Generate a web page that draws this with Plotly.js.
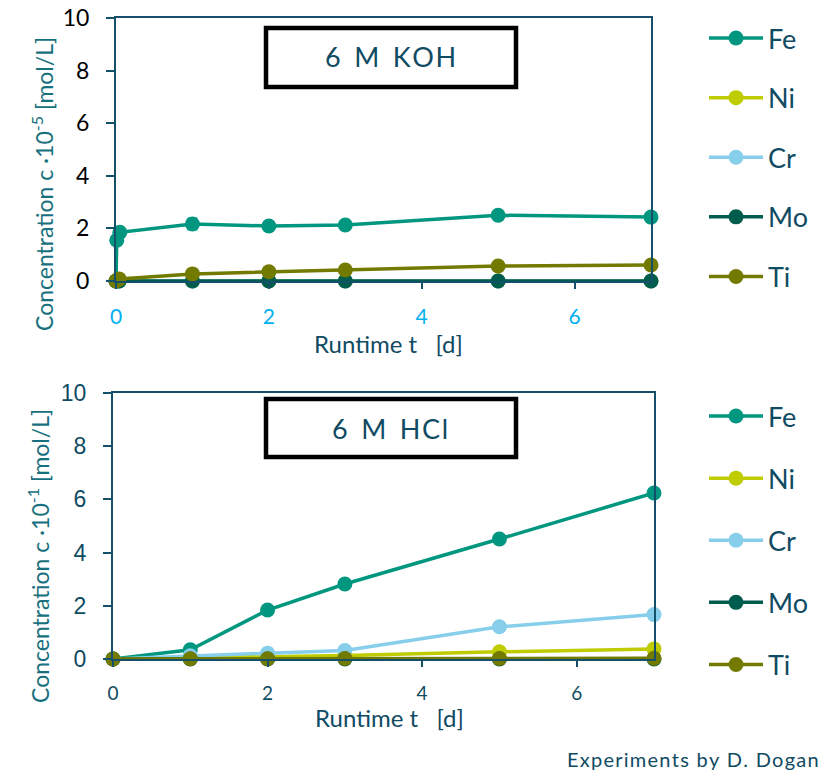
<!DOCTYPE html>
<html>
<head>
<meta charset="utf-8">
<script src="https://cdn.plot.ly/plotly-3.0.1.min.js"></script>
<style>html,body{margin:0;padding:0;background:#fff;}#chart{width:836px;height:770px;}</style>
</head>
<body>
<div id="chart"></div>
<script>
// ---- data ----
const elements = ['Fe', 'Ni', 'Cr', 'Mo', 'Ti'];
const colors = ['#00967f', '#bfcc00', '#87ceeb', '#005c4c', '#737a00'];

// 6 M KOH (c · 10^-5 mol/L)
const kohFeDays = [0, 0.01, 0.05, 1, 2, 3, 5, 7];
const kohFe = [0, 1.55, 1.85, 2.17, 2.09, 2.13, 2.50, 2.43];
const kohDays = [0, 0.04, 1, 2, 3, 5, 7];
const kohNi = [0, 0, 0, 0, 0, 0, 0];
const kohCr = [0, 0, 0, 0, 0, 0, 0];
const kohMo = [0, 0, 0, 0, 0, 0, 0];
const kohTi = [0, 0.08, 0.27, 0.35, 0.42, 0.57, 0.61];
const kohErrDay = [1];
const kohErrVal = [2.17];
const kohErr = [0.2];

// 6 M HCl (c · 10^-1 mol/L)
const hclDays = [0, 1, 2, 3, 5, 7];
const hclFe = [0, 0.35, 1.84, 2.82, 4.51, 6.24];
const hclNi = [0, 0.04, 0.08, 0.13, 0.27, 0.38];
const hclCr = [0, 0.12, 0.22, 0.32, 1.21, 1.67];
const hclMo = [0, 0, 0, 0, 0, 0];
const hclTi = [0, 0.01, 0.01, 0.02, 0.02, 0.03];

const yTicks = [0, 2, 4, 6, 8, 10];
const xTicks = [0, 2, 4, 6];

// ---- helpers ----
const W = 836, H = 770;
const px = v => v / W;
const py = v => 1 - v / H;
const navy = '#0f4b63';
const axisCol = '#14506a';
const titleCol = '#17707e';

const kohX = [kohFeDays, kohDays, kohDays, kohDays, kohDays];
const kohY = [kohFe, kohNi, kohCr, kohMo, kohTi];
const hclY = [hclFe, hclNi, hclCr, hclMo, hclTi];

const traces = [];
traces.push({
  x: kohErrDay, y: kohErrVal, type: 'scatter', mode: 'markers',
  marker: {size: 1, opacity: 0}, showlegend: false, hoverinfo: 'skip',
  error_y: {type: 'data', array: kohErr, color: '#00b0f0', thickness: 2.5, width: 5},
  xaxis: 'x', yaxis: 'y', cliponaxis: false
});
elements.forEach((el, i) => {
  traces.push({
    x: kohX[i], y: kohY[i], name: el, type: 'scatter', mode: 'lines+markers',
    line: {color: colors[i], width: 3.5}, marker: {color: colors[i], size: 15},
    xaxis: 'x', yaxis: 'y', legend: 'legend', legendgroup: 'k' + el, cliponaxis: false
  });
});
elements.forEach((el, i) => {
  traces.push({
    x: hclDays, y: hclY[i], name: el, type: 'scatter', mode: 'lines+markers',
    line: {color: colors[i], width: 3.5}, marker: {color: colors[i], size: 15},
    xaxis: 'x2', yaxis: 'y2', legend: 'legend2', legendgroup: 'h' + el, cliponaxis: false
  });
});

function xAxis(domain, anchor, tickColor, tickSize) {
  return {
    domain: domain, anchor: anchor, range: [0, 7], tickvals: xTicks,
    showgrid: false, zeroline: false, showline: true, mirror: true,
    linecolor: axisCol, linewidth: 2, ticks: 'outside', ticklen: 6, tickwidth: 2,
    tickcolor: axisCol, ticklabelstandoff: 10,
    tickfont: {family: 'Lato, sans-serif', size: tickSize, color: tickColor}
  };
}
function yAxis(domain, anchor, tickColor, family) {
  return {
    domain: domain, anchor: anchor, range: [0, 10], tickvals: yTicks,
    showgrid: false, zeroline: false, showline: true, mirror: true,
    linecolor: axisCol, linewidth: 2, ticks: 'outside', ticklen: 8, tickwidth: 2,
    tickcolor: axisCol, ticklabelstandoff: 12,
    tickfont: {family: family, size: 23, color: tickColor}
  };
}
function legend(topPx, gap) {
  return {
    x: px(704), xanchor: 'left', y: py(topPx), yanchor: 'top',
    traceorder: 'grouped', tracegroupgap: gap, itemwidth: 54,
    font: {family: 'Lato, sans-serif', size: 27, color: navy},
    bgcolor: 'rgba(0,0,0,0)', borderwidth: 0
  };
}

const spaced = s => s.split('').join('\u200a');

const layout = {
  width: W, height: H,
  margin: {l: 0, r: 0, t: 0, b: 0},
  paper_bgcolor: '#fff', plot_bgcolor: '#fff',
  showlegend: true,
  xaxis: xAxis([px(116), px(651)], 'y', '#00b0f0', 21),
  yaxis: yAxis([py(281), py(18)], 'x', '#000000', 'Lato, sans-serif'),
  xaxis2: xAxis([px(113), px(654)], 'y2', navy, 19),
  yaxis2: yAxis([py(659), py(393)], 'x2', navy, 'Liberation Sans, Arial, sans-serif'),
  legend: legend(14, 21.5),
  legend2: legend(392, 24),
  shapes: [
    {type: 'rect', xref: 'paper', yref: 'paper', x0: px(266), x1: px(516), y0: py(87), y1: py(28),
     line: {color: '#000', width: 4.5}, fillcolor: '#fff', layer: 'above'},
    {type: 'rect', xref: 'paper', yref: 'paper', x0: px(266), x1: px(516), y0: py(457), y1: py(399),
     line: {color: '#000', width: 4.5}, fillcolor: '#fff', layer: 'above'}
  ],
  annotations: [
    {text: '6\u2002M\u2002K\u200aO\u200aH', xref: 'paper', yref: 'paper', x: px(390), y: py(57),
     showarrow: false, xanchor: 'center', yanchor: 'middle',
     font: {family: 'Lato, sans-serif', size: 27, color: navy}},
    {text: '6\u2002M\u2002H\u200aC\u200al', xref: 'paper', yref: 'paper', x: px(390), y: py(428),
     showarrow: false, xanchor: 'center', yanchor: 'middle',
     font: {family: 'Lato, sans-serif', size: 27, color: navy}},
    {text: 'Concentration c ·10<sup>-5</sup> [mol/L]', xref: 'paper', yref: 'paper', x: px(43), y: py(184),
     textangle: -90, showarrow: false, xanchor: 'center', yanchor: 'middle',
     font: {family: 'Lato, sans-serif', size: 23, color: titleCol}},
    {text: 'Concentration c ·10<sup>-1</sup> [mol/L]', xref: 'paper', yref: 'paper', x: px(38), y: py(556),
     textangle: -90, showarrow: false, xanchor: 'center', yanchor: 'middle',
     font: {family: 'Lato, sans-serif', size: 23, color: titleCol}},
    {text: 'Runtime t\u00a0\u00a0\u00a0[d]', xref: 'paper', yref: 'paper', x: px(388), y: py(343),
     showarrow: false, xanchor: 'center', yanchor: 'middle',
     font: {family: 'Lato, sans-serif', size: 24, color: navy}},
    {text: 'Runtime t\u00a0\u00a0\u00a0[d]', xref: 'paper', yref: 'paper', x: px(389), y: py(717),
     showarrow: false, xanchor: 'center', yanchor: 'middle',
     font: {family: 'Lato, sans-serif', size: 24, color: navy}},
    {text: spaced('Experiments by D. Dogan'), xref: 'paper', yref: 'paper', x: px(821), y: py(759),
     showarrow: false, xanchor: 'right', yanchor: 'middle',
     font: {family: 'Lato, sans-serif', size: 20, color: navy}}
  ]
};

Plotly.newPlot('chart', traces, layout, {displayModeBar: false, staticPlot: true});
</script>
</body>
</html>
